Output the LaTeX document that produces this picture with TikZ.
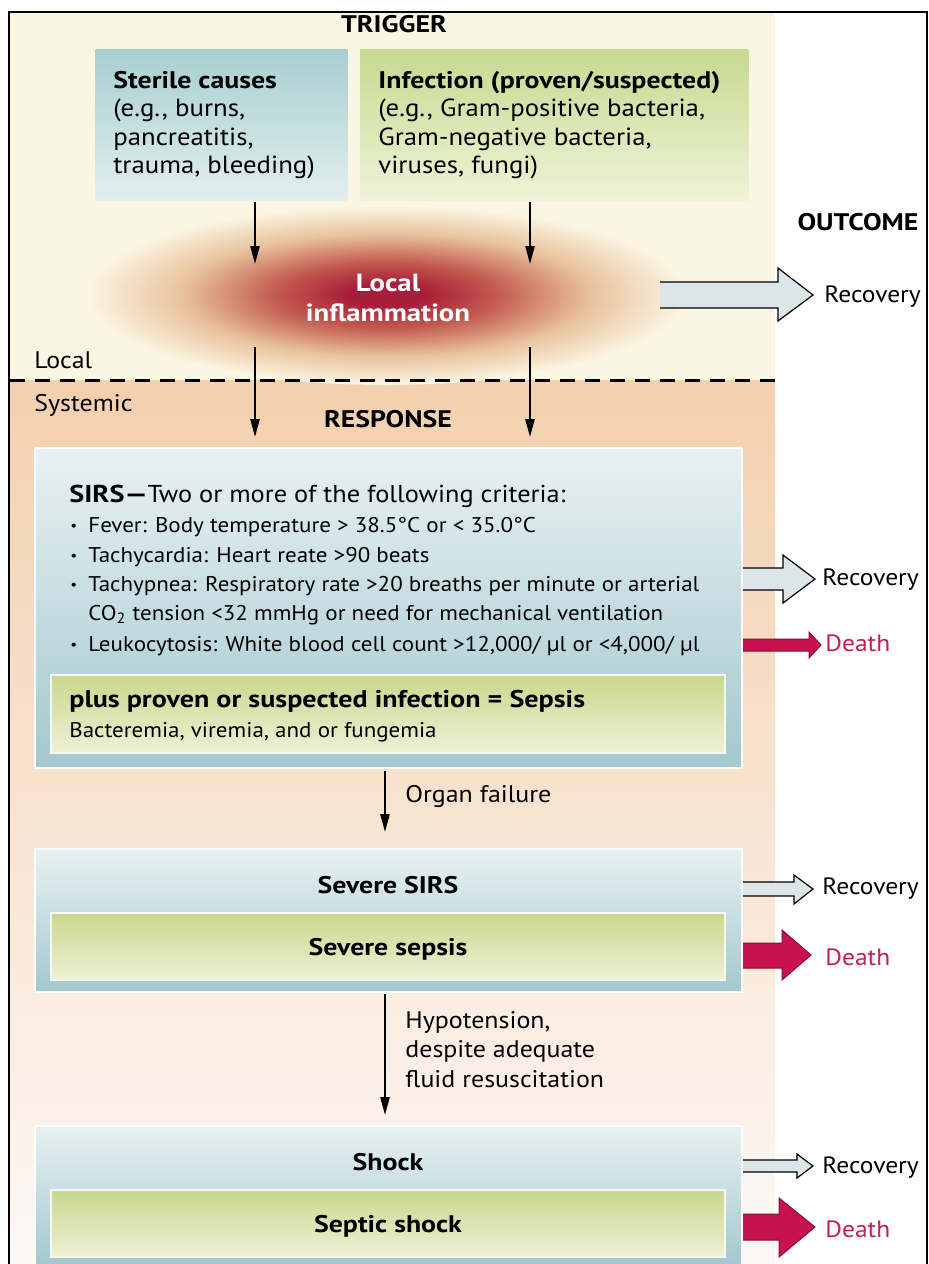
\documentclass[tikz,border=0pt]{standalone}
\usepackage{fontspec}
\setmainfont{PT Sans}[FakeStretch=1.08, BoldFeatures={FakeStretch=1.16}]
\usetikzlibrary{shapes.geometric,arrows.meta}
\definecolor{cream}{HTML}{FBF6E3}
\definecolor{peachtop}{HTML}{F3D0AE}
\definecolor{peachbot}{HTML}{FDF8F5}
\definecolor{sterTop}{HTML}{A7CFD0}
\definecolor{sterBot}{HTML}{E3EEEE}
\definecolor{infTop}{HTML}{C7D98F}
\definecolor{infBot}{HTML}{EFF3D8}
\definecolor{sirsTop}{HTML}{E8F1F3}
\definecolor{sirsBot}{HTML}{A3C8CE}
\definecolor{grTop}{HTML}{C9D78C}
\definecolor{grBot}{HTML}{EDF1D6}
\definecolor{recfill}{HTML}{DCE5E9}
\definecolor{deathfill}{HTML}{C8124F}
\definecolor{deathline}{HTML}{8E0A35}
\definecolor{deathtext}{HTML}{C41E4A}
\definecolor{inflA}{HTML}{A81D38}
\definecolor{inflB}{HTML}{C2584E}
\definecolor{inflC}{HTML}{E8C29C}
\pgfdeclareradialshading{inflsh}{\pgfpoint{0bp}{0bp}}{color(0bp)=(inflA); color(3bp)=(inflA); color(9bp)=(inflB); color(17bp)=(inflC); color(25bp)=(cream); color(50bp)=(cream)}
\begin{document}
\begin{tikzpicture}[x=0.5pt,y=-0.5pt,
  font=\fontsize{11}{13}\selectfont,
  arr/.style={-{Triangle[length=9pt,width=4.6pt]}, line width=1pt},
  lbl/.style={anchor=base west, inner sep=0pt, font=\fontsize{12}{14}\selectfont},
  ctr/.style={anchor=base, inner sep=0pt},
  hdr/.style={anchor=base, inner sep=0pt, font=\fontsize{12}{14}\selectfont\bfseries},
  boxtext/.style={anchor=base west, inner sep=0pt, font=\fontsize{12.4}{14}\selectfont},
  boxhead/.style={anchor=base west, inner sep=0pt, font=\fontsize{12}{14}\selectfont\bfseries},
  item/.style={anchor=base west, inner sep=0pt, font=\fontsize{10.65}{13}\selectfont},
  note/.style={anchor=base west, inner sep=0pt, font=\fontsize{12}{14}\selectfont},
  stage/.style={anchor=base, inner sep=0pt, font=\fontsize{12}{14}\selectfont\bfseries},
  box/.style={rectangle, inner sep=0pt, anchor=north west, draw=none},
  outerbox/.style={box, top color=sirsTop, bottom color=sirsBot, draw=white!85!sirsTop, line width=0.8pt},
  greenbox/.style={box, top color=grTop, bottom color=grBot, draw=white!85!grTop, line width=0.8pt},
  recfillst/.style={fill=recfill},
  recline/.style={draw=black, line width=0.6pt},
  deathfillst/.style={fill=deathfill},
  deathlinest/.style={draw=deathline, line width=0.5pt},
  outc/.style={anchor=base west, inner sep=0pt, font=\fontsize{11.8}{13}\selectfont},
  deathlbl/.style={outc, text=deathtext}
]
\useasboundingbox (0,0) rectangle (929,1264);
% backgrounds
\fill[cream] (9,12) rectangle (775,380);
\shade[top color=peachtop, bottom color=peachbot] (9,380) rectangle (775,1264);
\draw[line width=1pt] (9,1264) -- (9,12) -- (927,12) -- (927,1264);

% local inflammation (glow)
\node[ellipse, shading=inflsh, minimum width=300pt, minimum height=90pt, inner sep=0pt] (infl) at (386,295) {};
\draw[line width=1.5pt, dash pattern=on 7.5pt off 5pt] (10,380) -- (775,380);

% headers
\node[hdr] (trigger) at (394,32) {TRIGGER};
\node[hdr] (outcome) at (858,230) {OUTCOME};
\node[hdr] (response) at (388,427) {RESPONSE};
\node[lbl] (local) at (34,368) {Local};
\node[lbl] (systemic) at (34,411) {Systemic};

% trigger boxes
\node[box, minimum width=126pt, minimum height=75.5pt, top color=sterTop, bottom color=sterBot] (sterile) at (95,49) {};
\node[box, minimum width=194pt, minimum height=75.5pt, top color=infTop, bottom color=infBot] (infection) at (360,49) {};
\node[boxhead] (st1) at (113,88) {Sterile causes};
\node[boxtext] (st2) at (113,116.5) {(e.g., burns,};
\node[boxtext] (st3) at (113,145) {pancreatitis,};
\node[boxtext] (st4) at (113,173.5) {trauma,\ bleeding)};
\node[boxhead] (in1) at (378,88) {Infection (proven/suspected)};
\node[boxtext] (in2) at (378,116.5) {(e.g., Gram-positive bacteria,};
\node[boxtext] (in3) at (378,145) {Gram-negative bacteria,};
\node[boxtext] (in4) at (378,173.5) {viruses, fungi)};

\node[ctr, text=white, font=\fontsize{12.4}{14}\selectfont\bfseries] (infl1) at (388,291) {Local};
\node[ctr, text=white, font=\fontsize{12.4}{14}\selectfont\bfseries] (infl2) at (388,321) {inflammation};

% arrows trigger -> inflammation -> response
\coordinate (a1s) at (255,202); \coordinate (a1e) at (255,264);
\coordinate (a2s) at (530,202); \coordinate (a2e) at (530,264);
\coordinate (b1s) at (255,347); \coordinate (b1e) at (255,437);
\coordinate (b2s) at (530,347); \coordinate (b2e) at (530,437);
\draw[arr] (a1s) -- (a1e);
\draw[arr] (a2s) -- (a2e);
\draw[arr] (b1s) -- (b1e);
\draw[arr] (b2s) -- (b2e);

% SIRS box
\node[outerbox, minimum width=353.5pt, minimum height=160pt] (sirs) at (34,447) {};
\node[greenbox, minimum width=337pt, minimum height=39pt] (sepsis) at (50,674) {};
\node[anchor=base west, inner sep=0pt, font=\fontsize{12.2}{14}\selectfont] (s0) at (69,502) {\textbf{SIRS—}Two or more of the following criteria:};
\foreach \yy/\nm in {532/b1,562/b2,591/b3,651/b4}{
  \node[anchor=base west, inner sep=0pt, font=\fontsize{7}{8}\selectfont] (\nm) at (70,\yy-2) {•};
}
\node[item] (s1) at (88,532) {Fever: Body temperature > 38.5°C or < 35.0°C};
\node[item] (s2) at (88,562) {Tachycardia: Heart reate >90 beats};
\node[item] (s3) at (88,591) {Tachypnea: Respiratory rate >20 breaths per minute or arterial};
\node[item] (s4) at (88,620) {CO\textsubscript{2} tension <32 mmHg or need for mechanical ventilation};
\node[item] (s5) at (88,651) {Leukocytosis: White blood cell count >12,000/ µl or <4,000/ µl};
\node[anchor=base west, inner sep=0pt, font=\fontsize{12.1}{14}\selectfont\bfseries] (p1) at (69,707) {plus proven or suspected infection = Sepsis};
\node[item] (p2) at (69,737) {Bacteremia, viremia, and or fungemia};

% organ failure
\coordinate (c1s) at (385,771); \coordinate (c1e) at (385,832);
\draw[arr] (c1s) -- (c1e);
\node[note] (organ) at (405,802) {Organ failure};

% severe box
\node[outerbox, minimum width=353.5pt, minimum height=71.5pt] (severe) at (34,848) {};
\node[greenbox, minimum width=337pt, minimum height=33.5pt] (sevsep) at (50,912) {};
\node[stage] (sv1) at (388,893) {Severe SIRS};
\node[stage] (sv2) at (388,955) {Severe sepsis};

% hypotension
\coordinate (d1s) at (385,994); \coordinate (d1e) at (385,1115);
\draw[arr] (d1s) -- (d1e);
\node[note] (h1) at (405,1028) {Hypotension,};
\node[note] (h2) at (405,1057) {despite adequate};
\node[note] (h3) at (405,1087) {fluid resuscitation};

% shock box
\node[outerbox, minimum width=353.5pt, minimum height=69.5pt] (shock) at (34,1125) {};
\node[greenbox, minimum width=337pt, minimum height=33.5pt] (sepshock) at (50,1189) {};
\node[stage] (sh1) at (388,1170) {Shock};
\node[stage] (sh2) at (388,1232) {Septic shock};

% outcome arrows
% top recovery
\fill[recfillst] (660,282) -- (778,282) -- (778,268) -- (813,295) -- (778,321) -- (778,308) -- (660,308) -- cycle;
\draw[recline] (660,282) -- (778,282) -- (778,268) -- (813,295) -- (778,321) -- (778,308) -- (660,308);
\node[outc] (r0) at (824,302) {Recovery};
% SIRS recovery
\fill[recfillst] (743,568) -- (783,568) -- (783,555) -- (815,579) -- (783,603) -- (783,590) -- (743,590) -- cycle;
\draw[recline] (743,568) -- (783,568) -- (783,555) -- (815,579) -- (783,603) -- (783,590) -- (743,590);
\node[outc] (r1) at (822,585) {Recovery};
% SIRS death
\fill[deathfillst] (743,639) -- (809,639) -- (809,632) -- (821,645) -- (809,658) -- (809,651) -- (743,651) -- cycle;
\draw[deathlinest] (743,639) -- (809,639) -- (809,632) -- (821,645) -- (809,658) -- (809,651) -- (743,651);
\node[deathlbl] (dd1) at (825,651) {Death};
% Severe recovery
\fill[recfillst] (743,882) -- (794,882) -- (794,875) -- (813,889) -- (794,904) -- (794,896) -- (743,896) -- cycle;
\draw[recline] (743,882) -- (794,882) -- (794,875) -- (813,889) -- (794,904) -- (794,896) -- (743,896);
\node[outc] (r2) at (822,894) {Recovery};
% Severe death
\fill[deathfillst] (743,943) -- (782,943) -- (782,930) -- (811,955) -- (782,980) -- (782,968) -- (743,968) -- cycle;
\draw[deathlinest] (743,943) -- (782,943) -- (782,930) -- (811,955) -- (782,980) -- (782,968) -- (743,968);
\node[deathlbl] (dd2) at (825,965) {Death};
% Shock recovery
\fill[recfillst] (743,1160) -- (797,1160) -- (797,1154) -- (813,1166) -- (797,1178) -- (797,1172) -- (743,1172) -- cycle;
\draw[recline] (743,1160) -- (797,1160) -- (797,1154) -- (813,1166) -- (797,1178) -- (797,1172) -- (743,1172);
\node[outc] (r3) at (822,1173) {Recovery};
% Shock death
\fill[deathfillst] (743,1214) -- (779,1214) -- (779,1198) -- (815,1227) -- (779,1257) -- (779,1240) -- (743,1240) -- cycle;
\draw[deathlinest] (743,1214) -- (779,1214) -- (779,1198) -- (815,1227) -- (779,1257) -- (779,1240) -- (743,1240);
\node[deathlbl] (dd3) at (825,1237) {Death};
\end{tikzpicture}
\end{document}
